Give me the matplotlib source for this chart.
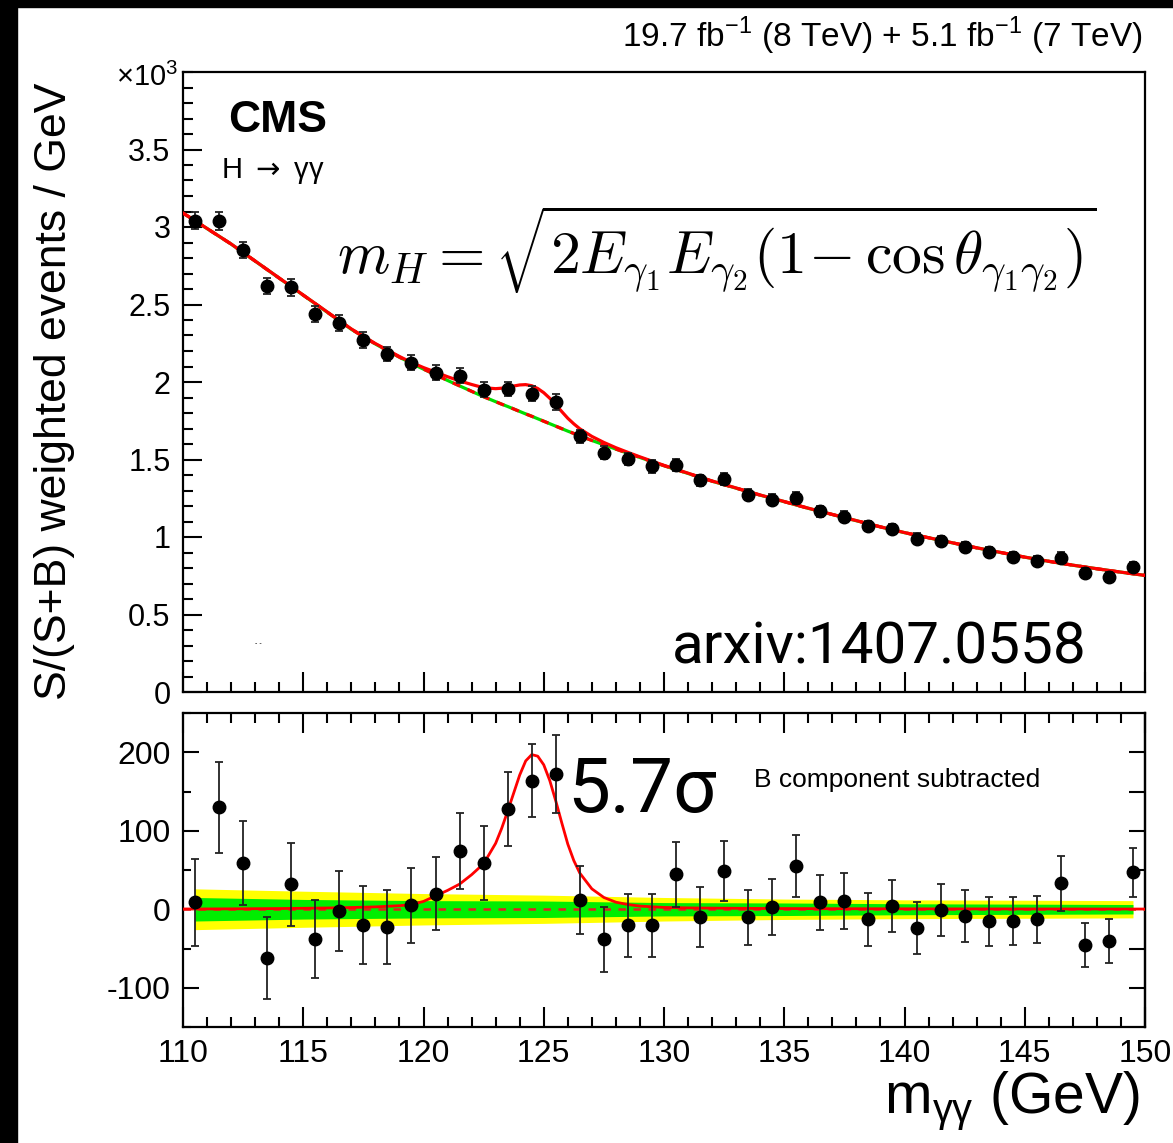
import numpy as np
import matplotlib
matplotlib.use('Agg')
import matplotlib.pyplot as plt
from matplotlib.patches import Rectangle
from matplotlib.ticker import MultipleLocator

plt.rcParams['font.family'] = ['Liberation Sans', 'DejaVu Sans']
plt.rcParams['axes.unicode_minus'] = False

# bin centres, GeV
mass = [110.5, 111.5, 112.5, 113.5, 114.5, 115.5, 116.5, 117.5, 118.5, 119.5,
        120.5, 121.5, 122.5, 123.5, 124.5, 125.5, 126.5, 127.5, 128.5, 129.5,
        130.5, 131.5, 132.5, 133.5, 134.5, 135.5, 136.5, 137.5, 138.5, 139.5,
        140.5, 141.5, 142.5, 143.5, 144.5, 145.5, 146.5, 147.5, 148.5, 149.5]
# S/(S+B) weighted events / GeV (x10^3)
weighted = [3.04, 3.04, 2.85, 2.62, 2.61, 2.44, 2.38, 2.27, 2.18, 2.125,
            2.06, 2.04, 1.95, 1.955, 1.925, 1.87, 1.65, 1.545, 1.505, 1.455,
            1.465, 1.365, 1.375, 1.273, 1.24, 1.253, 1.165, 1.13, 1.072, 1.053,
            0.99, 0.975, 0.937, 0.905, 0.872, 0.847, 0.866, 0.77, 0.745, 0.808]
# background subtracted
subtracted = [8.6, 130, 59, -62, 32, -38, -2.6, -20, -23, 5,
              20, 74, 59, 128, 164, 172, 12, -38.5, -20.5, -20.5,
              44.5, -10, 49, -10, 3, 55, 9, 10.7, -13, 4,
              -24, -1, -9, -15.4, -15, -13, 33, -46, -41, 47]
err = [56, 58, 53, 52, 53, 50, 51, 50, 47, 48,
       47, 48, 47, 47, 47, 50, 43, 41, 40, 40,
       41, 38, 38, 35, 36, 40, 35, 36, 34, 33,
       33, 33, 33, 31, 30, 30, 35, 28, 28, 31]

# fit curves
curve_mass = [110, 111, 112, 113, 114, 115, 116, 117, 118, 119,
              119.5, 120, 120.5, 121, 121.5, 122, 122.5,
              123, 123.25, 123.5, 123.75, 124, 124.25, 124.5, 124.75,
              125, 125.25, 125.5, 125.75, 126, 126.25, 126.5,
              127, 127.5, 128, 128.5, 129,
              130, 131, 132, 133, 134, 135, 136, 137, 138, 139, 140,
              141, 142, 143, 144, 145, 146, 147, 148, 149, 150]
bkg_fit = [3.09, 2.99, 2.89, 2.78, 2.67, 2.56, 2.45, 2.34, 2.245, 2.16,
           2.12, 2.083, 2.047, 2.01, 1.975, 1.94, 1.905,
           1.873, 1.857, 1.842, 1.826, 1.81, 1.794, 1.779, 1.763,
           1.747, 1.731, 1.715, 1.699, 1.683, 1.668, 1.652,
           1.623, 1.595, 1.567, 1.54, 1.513,
           1.46, 1.41, 1.36, 1.315, 1.27, 1.228, 1.185, 1.145, 1.105, 1.065, 1.028,
           0.995, 0.962, 0.93, 0.9, 0.87, 0.843, 0.818, 0.795, 0.773, 0.752]
sig_fit = [0.3, 0.4, 0.5, 0.7, 0.9, 1.2, 1.6, 2.2, 3.0, 4.5,
           6, 10, 17, 24, 32, 44, 58,
           84, 103, 125, 148, 171, 189, 197, 195,
           184, 164, 138, 110, 83, 62, 46,
           26, 15, 9, 6, 4,
           2.3, 1.7, 1.4, 1.2, 1.0, 0.9, 0.8, 0.7, 0.65, 0.6, 0.55,
           0.5, 0.45, 0.42, 0.4, 0.37, 0.35, 0.33, 0.3, 0.28, 0.26]

band_mass = [110.5, 115, 120, 125, 130, 135, 140, 145, 149.5]
band_1sig = [15, 12.5, 11, 10.5, 8.5, 8, 7, 6.5, 6]
band_2sig = [26, 23, 20, 18, 15, 13, 12, 11.5, 11]

W, H = 1173., 1143.
fig = plt.figure(figsize=(W / 100, H / 100), dpi=100)


def box(l, t, r, b):
    return [l / W, 1 - b / H, (r - l) / W, (b - t) / H]


ax1 = fig.add_axes(box(183, 72, 1145, 692))
ax2 = fig.add_axes(box(183, 713, 1145, 1027))

m_c = np.array(curve_mass)
b_c = np.array(bkg_fit)
s_c = np.array(sig_fit)

# top panel
ax1.plot(m_c, b_c, color='#00dd00', lw=2.3, zorder=2)
ax1.plot(m_c, b_c, color='red', lw=2.3, dashes=(2.5, 2.5), zorder=3)
ax1.plot(m_c, b_c + s_c / 1000., color='red', lw=2.3, zorder=4)
ax1.errorbar(mass, weighted, yerr=np.array(err) / 1000., fmt='o', color='black',
             ms=9, ecolor='#222222', elinewidth=1.3, capsize=3, capthick=1.3, zorder=5)

# bottom panel
bm = np.array(band_mass)
ax2.fill_between(bm, -np.array(band_2sig), band_2sig, color='#ffff00', lw=0, zorder=1)
ax2.fill_between(bm, -np.array(band_1sig), band_1sig, color='#00ee00', lw=0, zorder=2)
ax2.axhline(0, color='#e02020', lw=1.8, dashes=(3, 3), zorder=3)
ax2.plot(m_c, s_c, color='red', lw=2, zorder=4)
ax2.errorbar(mass, subtracted, yerr=err, fmt='o', color='black',
             ms=9, ecolor='#222222', elinewidth=1.3, capsize=3, capthick=1.3, zorder=5)

for ax in (ax1, ax2):
    ax.set_xlim(110, 150)
    ax.xaxis.set_major_locator(MultipleLocator(5))
    ax.xaxis.set_minor_locator(MultipleLocator(1))
    for s in ax.spines.values():
        s.set_linewidth(1.6)

ax1.set_ylim(0, 4)
ax1.set_yticks([0, 0.5, 1, 1.5, 2, 2.5, 3, 3.5])
ax1.set_yticklabels(['0', '0.5', '1', '1.5', '2', '2.5', '3', '3.5'])
ax1.yaxis.set_minor_locator(MultipleLocator(0.1))
ax1.tick_params(axis='x', which='both', direction='in', bottom=True, top=False, labelbottom=False, width=1.5)
ax1.tick_params(axis='x', which='major', length=14.4)
ax1.tick_params(axis='x', which='minor', length=7.2)
ax1.tick_params(axis='y', which='both', direction='in', left=True, right=False, labelsize=22, pad=9, width=1.5)
ax1.tick_params(axis='y', which='major', length=13.7)
ax1.tick_params(axis='y', which='minor', length=7)

ax2.set_ylim(-150, 250)
ax2.set_yticks([-100, 0, 100, 200])
ax2.yaxis.set_minor_locator(MultipleLocator(50))
ax2.tick_params(axis='x', which='both', direction='in', bottom=True, top=True, labelsize=23, pad=9, width=1.5)
ax2.tick_params(axis='x', which='major', length=14.4)
ax2.tick_params(axis='x', which='minor', length=7.2)
ax2.tick_params(axis='y', which='both', direction='in', left=True, right=False, labelsize=23, pad=9, width=1.5)
ax2.tick_params(axis='y', which='major', length=11.5)
ax2.tick_params(axis='y', which='minor', length=5.8)
sec = ax2.secondary_yaxis('right')
sec.set_yticks([-100, -50, 50, 100, 150, 200])
sec.tick_params(direction='in', length=11.5, width=1.5, labelright=False)
sec.spines['right'].set_linewidth(1.6)

# texts
fig.text(1143 / W, 1 - 47 / H, r'19.7 fb$^{\mathregular{-1}}$ (8 TeV) + 5.1 fb$^{\mathregular{-1}}$ (7 TeV)',
         ha='right', va='baseline', fontsize=24)
fig.text(178 / W, 1 - 77 / H, r'×10$^{\mathregular{3}}$', ha='right', va='center', fontsize=21)
fig.text(228 / W, 1 - 132 / H, 'CMS', fontweight='bold', fontsize=32, va='baseline')
fig.text(221 / W, 1 - 178 / H, r'H $\rightarrow$ γγ', math_fontfamily='dejavusans',
         fontsize=21, va='baseline')
fig.text(337 / W, 1 - 250 / H,
         r'$m_H = \sqrt{2E_{\gamma_1}E_{\gamma_2}(1\!-\cos\theta_{\gamma_1\gamma_2})}$',
         math_fontfamily='cm', fontsize=43, va='center', ha='left')
fig.text(255 / W, 1 - 645 / H, '- -', fontsize=5, va='baseline')
fig.text(672 / W, 1 - 663 / H, 'arxiv:1407.0558', family=['Roboto', 'DejaVu Sans'],
         fontsize=42, va='baseline')
fig.text(567 / W, 1 - 812 / H, '5.7σ', family=['Roboto', 'DejaVu Sans'], fontsize=55, va='baseline')
fig.text(754 / W, 1 - 787 / H, 'B component subtracted', fontsize=19, va='baseline')
fig.text(55 / W, 1 - 391 / H, 'S/(S+B) weighted events / GeV', rotation=90,
         ha='center', va='center', fontsize=32)
fig.text(1140 / W, 1 - 1113 / H, r'm$_{\mathregular{γγ}}$ (GeV)', ha='right', va='baseline', fontsize=41)

# black frame from the screenshot
fig.patches.append(Rectangle((0, 0), 17 / W, 1, transform=fig.transFigure, color='black', zorder=10))
fig.patches.append(Rectangle((0, 1 - 7 / H), 1, 7 / H, transform=fig.transFigure, color='black', zorder=10))

fig.savefig('out.png', dpi=100)
